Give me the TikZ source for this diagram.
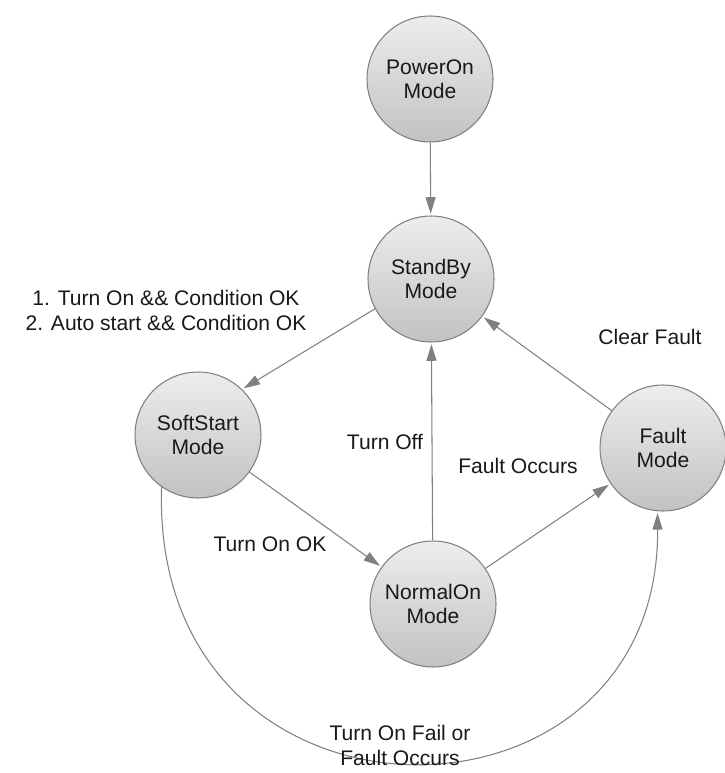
\documentclass[tikz,border=0pt]{standalone}
\usepackage{fontspec}
\setmainfont{Liberation Sans}
\usetikzlibrary{arrows.meta,positioning}

\begin{document}
\begin{tikzpicture}[
    x=0.02cm, y=-0.02cm,
    mode/.style={circle, draw=black!50, line width=0.6pt, top color=black!7, bottom color=black!24, minimum size=2.52cm, inner sep=0pt, align=center, text=black!90, font=\fontsize{12}{13.6}\selectfont},
    lbl/.style={align=center, text=black!90, font=\fontsize{12}{14.2}\selectfont},
    arr/.style={-{Triangle[length=3.3mm, width=2mm]}, draw=black!50, line width=0.6pt, shorten >=1pt},
  ]
  \useasboundingbox (0,0) rectangle (724,773);
  \node[mode] (power) at (430,79) {PowerOn\\Mode};
  \node[mode] (standby) at (431,279) {StandBy\\Mode};
  \node[mode] (soft) at (198,435) {SoftStart\\Mode};
  \node[mode] (fault) at (663,448) {Fault\\Mode};
  \node[mode] (normal) at (433,604) {NormalOn\\Mode};
  \draw[arr] (power) -- (standby);
  \draw[arr] (standby.208) -- (soft.46);
  \draw[arr] (soft) -- (normal);
  \draw[arr] (normal) -- (standby);
  \draw[arr] (normal) -- (fault);
  \draw[arr] (fault) -- (standby);
  % long way round from soft start to fault
  \draw[arr] (soft.235) .. controls (150,850) and (660,850) .. (fault.265);
  \node[lbl] (startlbl) at (166,310) {1. Turn On \&\& Condition OK\\2. Auto start \&\& Condition OK};
  \node[lbl] (oklbl) at (270,544) {Turn On OK};
  \node[lbl] (offlbl) at (385,442) {Turn Off};
  \node[lbl] (occurlbl) at (518,466) {Fault Occurs};
  \node[lbl] (clearlbl) at (650,337) {Clear Fault};
  \node[lbl] (faillbl) at (400,745) {Turn On Fail or\\Fault Occurs};
\end{tikzpicture}
\end{document}
